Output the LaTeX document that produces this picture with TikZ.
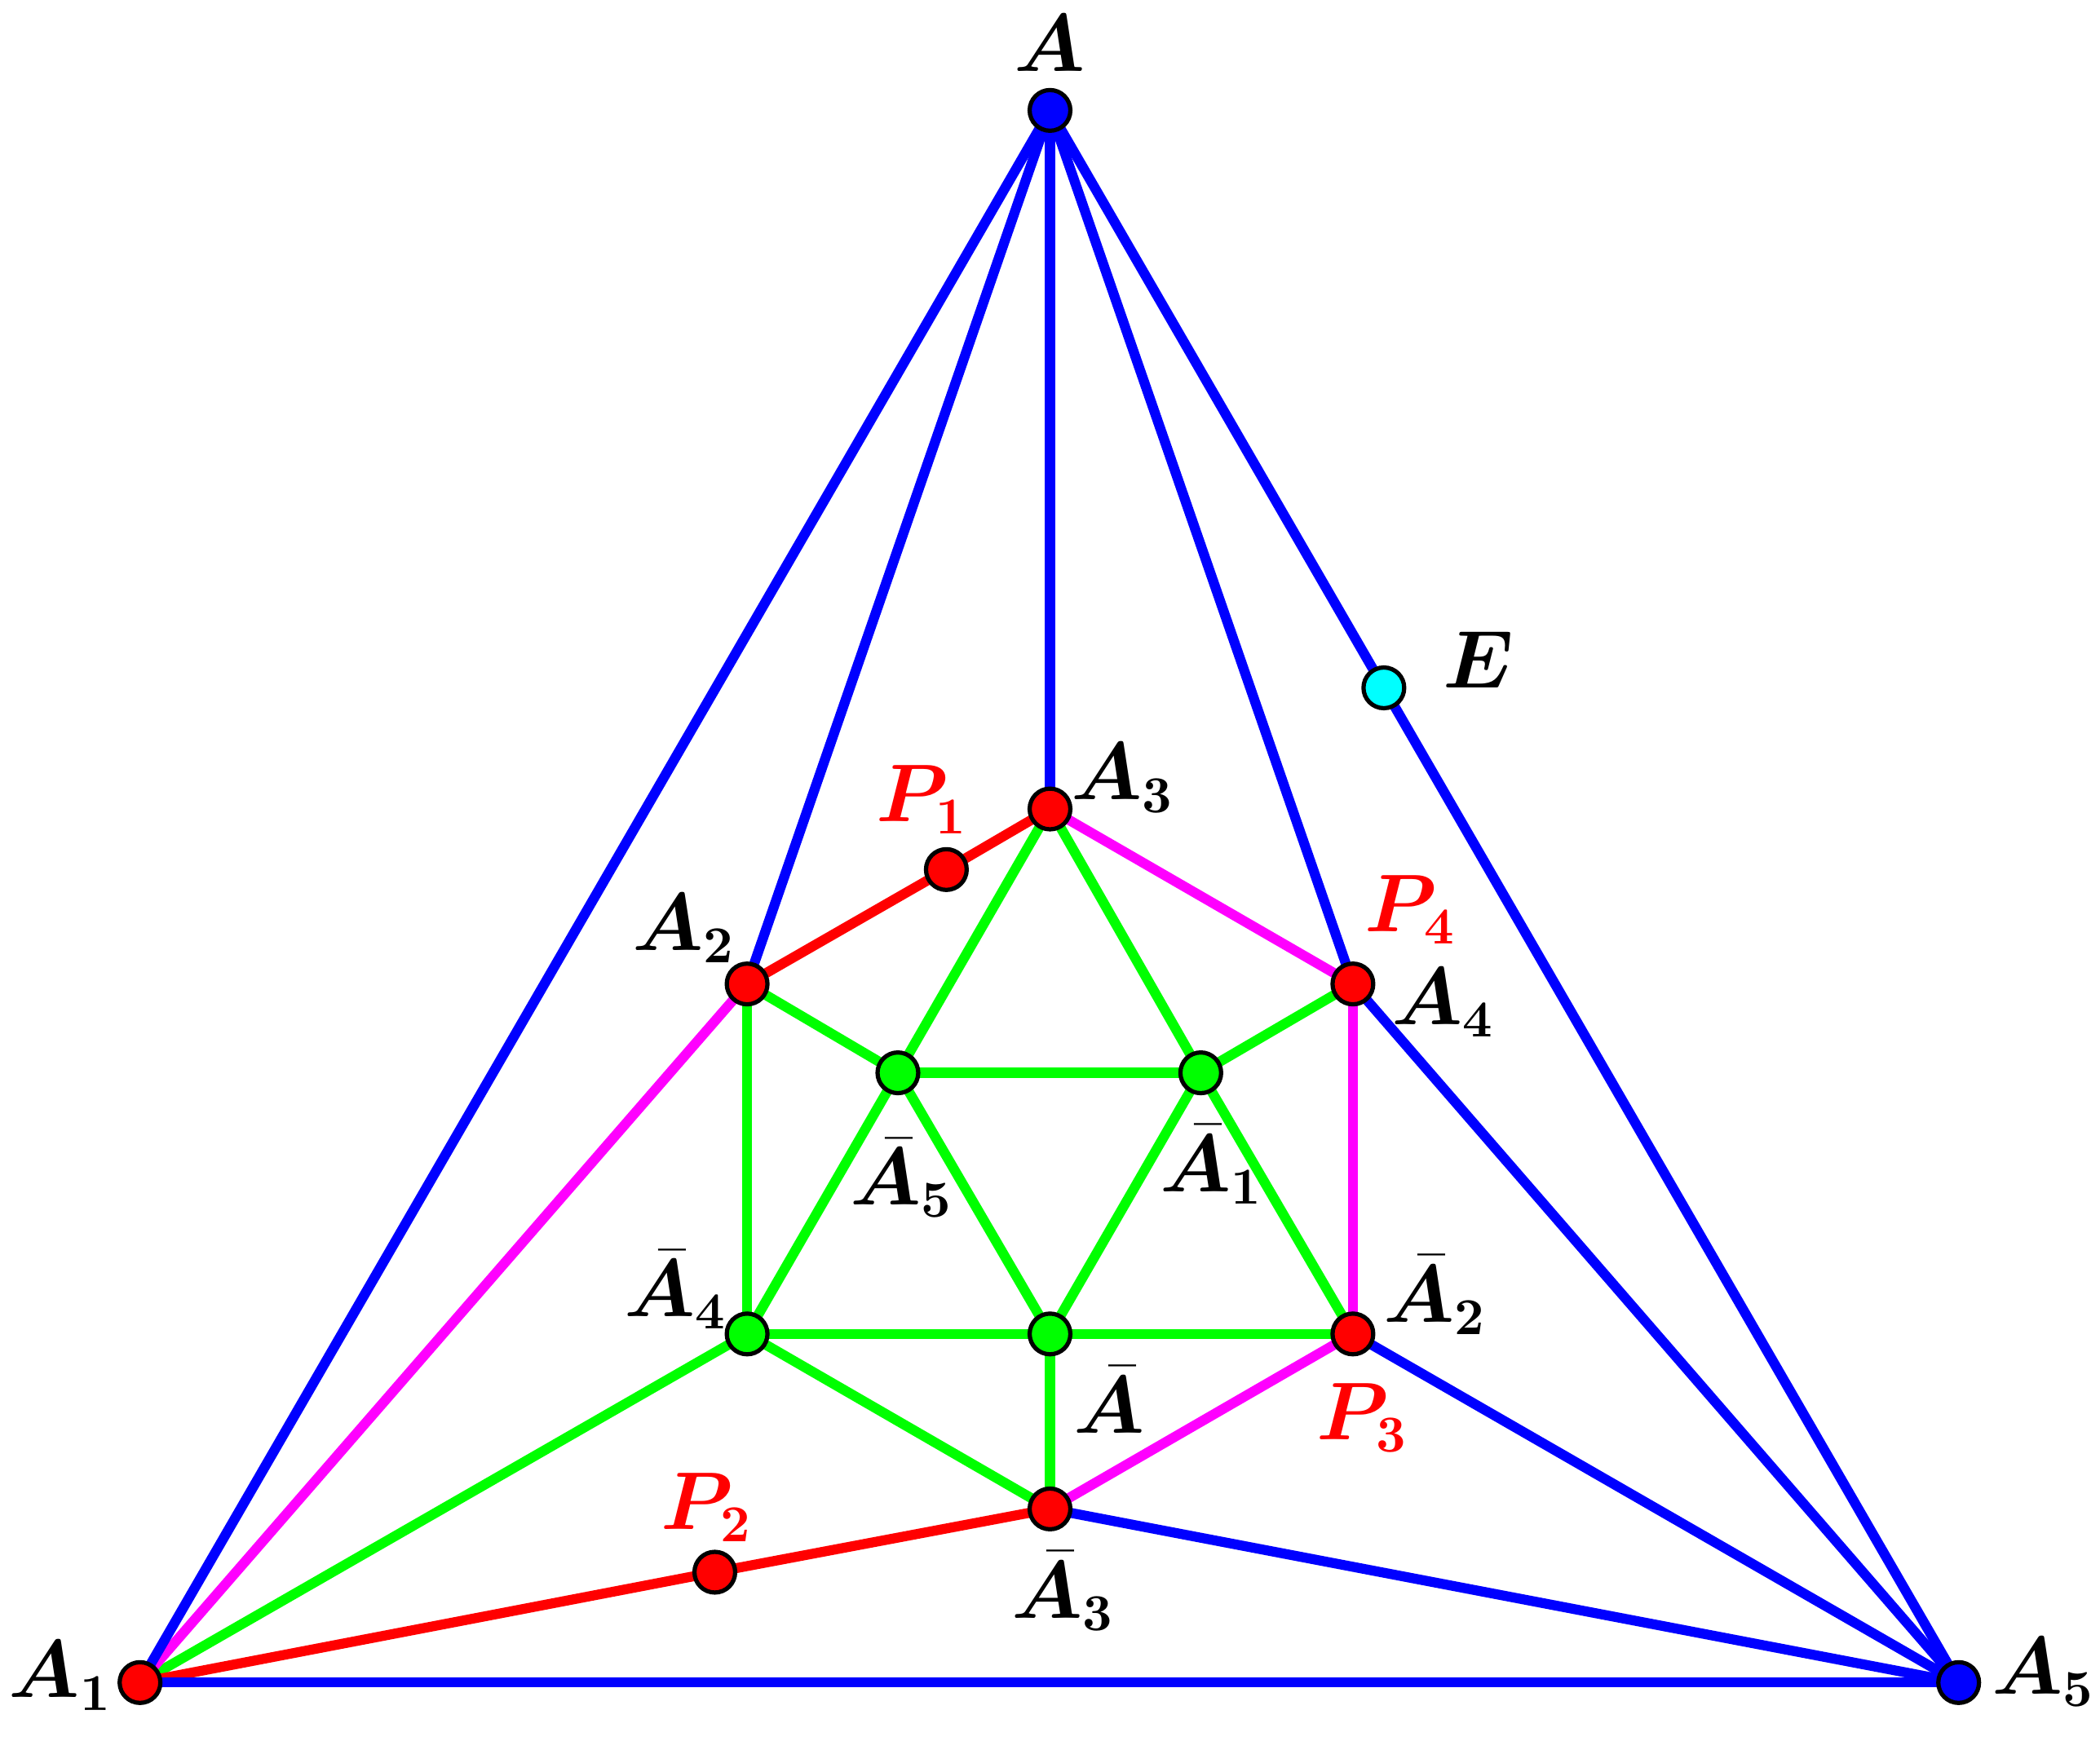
\documentclass[tikz,border=0pt]{standalone}
\usepackage{amsmath,bm}
\newcommand{\bb}[1]{\bar{\bm{#1}}}
\definecolor{mgc}{RGB}{255,0,255}
\definecolor{cyc}{RGB}{0,255,255}
\definecolor{grc}{RGB}{0,255,0}
\definecolor{blc}{RGB}{0,0,255}
\definecolor{rdc}{RGB}{255,0,0}
\begin{document}
\begin{tikzpicture}[x=0.01cm,y=-0.01cm,
  dot/.style={circle,draw=black,line width=0.9pt,inner sep=0pt,minimum size=8.6pt},
  rd/.style={dot,fill=rdc}, gd/.style={dot,fill=grc}, bd/.style={dot,fill=blc}, cd/.style={dot,fill=cyc},
  bl/.style={blc,line width=2.1pt}, re/.style={rdc,line width=2.1pt},
  mg/.style={mgc,line width=2.1pt}, gr/.style={grc,line width=2.1pt},
  lab/.style={font=\fontsize{16}{19}\selectfont}]
\useasboundingbox (0,0) rectangle (1560,1293);
\coordinate (A) at (780,82);
\coordinate (A1) at (104,1250);
\coordinate (A5) at (1455,1250);
\coordinate (E) at (1028,511);
\coordinate (A3) at (780,601);
\coordinate (P1) at (703,646);
\coordinate (A2) at (555,731);
\coordinate (A4) at (1005,731);
\coordinate (B5) at (667,797);
\coordinate (B1) at (892,797);
\coordinate (B4) at (555,991);
\coordinate (B) at (780,991);
\coordinate (B2) at (1005,991);
\coordinate (B3) at (780,1121);
\coordinate (P2) at (531,1168);
% green
\foreach \u/\v in {A2/B5,A2/B4,A3/B5,A3/B1,A4/B1,B5/B1,B5/B,B1/B2,B1/B,B5/B4,B4/B,B/B2,B4/A1,B4/B3,B/B3}
  \draw[gr] (\u) -- (\v);
% magenta
\foreach \u/\v in {A1/A2,A3/A4,A4/B2,B2/B3} \draw[mg] (\u) -- (\v);
% red
\draw[re] (A2) -- (P1) -- (A3);
\draw[re] (A1) -- (P2) -- (B3);
% blue
\foreach \u/\v in {A/A1,A/A2,A/A3,A/A4,A/E,E/A5,A1/A5,A4/A5,B2/A5,B3/A5} \draw[bl] (\u) -- (\v);
% dots
\node[bd] (nA) at (A) {};
\node[rd] (nA1) at (A1) {};
\node[bd] (nA5) at (A5) {};
\node[cd] (nE) at (E) {};
\node[rd] (nA3) at (A3) {};
\node[rd] (nP1) at (P1) {};
\node[rd] (nA2) at (A2) {};
\node[rd] (nA4) at (A4) {};
\node[gd] (nB5) at (B5) {};
\node[gd] (nB1) at (B1) {};
\node[gd] (nB4) at (B4) {};
\node[gd] (nB) at (B) {};
\node[rd] (nB2) at (B2) {};
\node[rd] (nB3) at (B3) {};
\node[rd] (nP2) at (P2) {};
% labels
\node[lab] (lA) at (780,32) {$\bm{A}$};
\node[lab] (lA1) at (45,1245) {$\bm{A_1}$};
\node[lab] (lA5) at (1518,1242) {$\bm{A_5}$};
\node[lab] (lE) at (1098,490) {$\bm{E}$};
\node[lab] (lA3) at (834,578) {$\bm{A_3}$};
\node[lab,rdc] (lP1) at (685,594) {$\bm{P_1}$};
\node[lab] (lA2) at (508,690) {$\bm{A_2}$};
\node[lab,rdc] (lP4) at (1048,676) {$\bm{P_4}$};
\node[lab] (lA4) at (1072,745) {$\bm{A_4}$};
\node[lab] (lB5) at (670,875) {$\bb{A}_{\bm 5}$};
\node[lab] (lB1) at (900,865) {$\bb{A}_{\bm 1}$};
\node[lab] (lB4) at (502,958) {$\bb{A}_{\bm 4}$};
\node[lab] (lB2) at (1066,962) {$\bb{A}_{\bm 2}$};
\node[lab] (lB) at (824,1040) {$\bb{A}$};
\node[lab,rdc] (lP3) at (1012,1053) {$\bm{P_3}$};
\node[lab] (lB3) at (790,1182) {$\bb{A}_{\bm 3}$};
\node[lab,rdc] (lP2) at (525,1120) {$\bm{P_2}$};
\end{tikzpicture}
\end{document}
